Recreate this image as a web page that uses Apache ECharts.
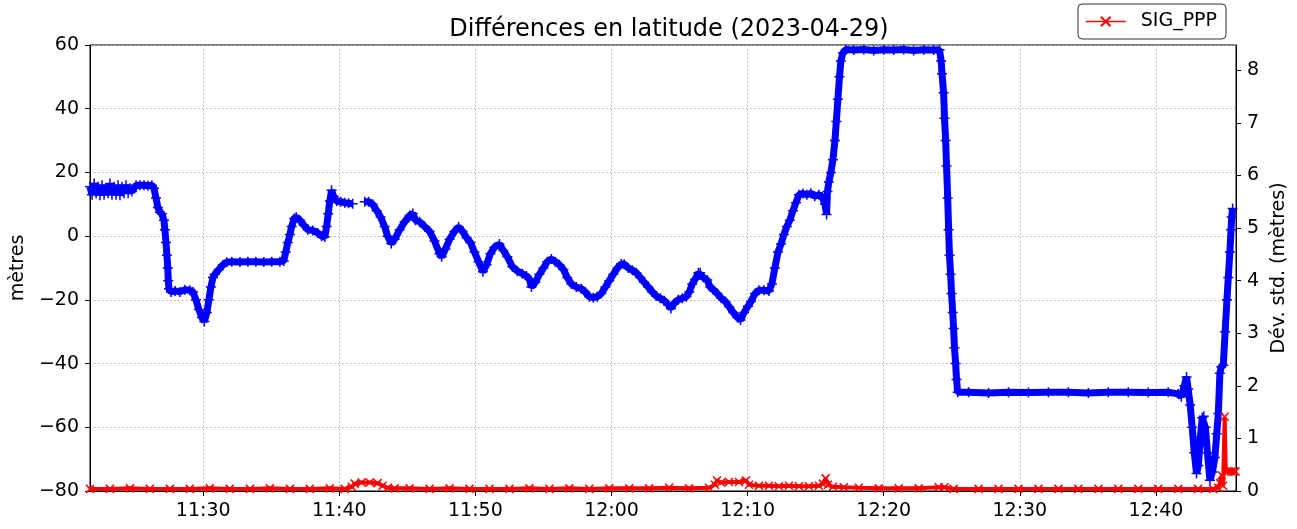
<!DOCTYPE html>
<html><head><meta charset="utf-8">
<script src="https://cdn.jsdelivr.net/npm/echarts@6/dist/echarts.min.js"></script>
<style>html,body{margin:0;padding:0;background:#fff}#c{width:1297px;height:529px}</style>
</head><body><div id="c"></div>
<script>
const titleText = 'Différences en latitude (2023-04-29)';
const leftAxisName = 'mètres';
const rightAxisName = 'Dév. std. (mètres)';
const sigName = 'SIG_PPP';
const xStart = '11:21:41';
const xEnd = '12:45:53';
const xTickLabels = ['11:30','11:40','11:50','12:00','12:10','12:20','12:30','12:40'];

const blueTimes = [
'11:21:41','11:21:50','11:21:59','11:22:08','11:22:17','11:22:25','11:22:34','11:22:43','11:22:52','11:23:01',
'11:23:09','11:23:18','11:23:27','11:23:36','11:23:45','11:23:53','11:24:02','11:24:11','11:24:20','11:24:29',
'11:24:37','11:24:46','11:24:55','11:25:04','11:25:21','11:25:39','11:25:56','11:26:14','11:26:23','11:26:32',
'11:26:40','11:26:49','11:26:58','11:27:07','11:27:11','11:27:16','11:27:20','11:27:24','11:27:26','11:27:29',
'11:27:38','11:27:56','11:28:17','11:28:39','11:29:01','11:29:15','11:29:28','11:29:41','11:29:54','11:30:05',
'11:30:16','11:30:25','11:30:34','11:30:43','11:30:51','11:31:09','11:31:27','11:31:44','11:32:06','11:32:42',
'11:33:17','11:33:52','11:34:27','11:35:02','11:35:38','11:35:55','11:36:04','11:36:13','11:36:22','11:36:30',
'11:36:41','11:36:50','11:37:06','11:37:23','11:37:41','11:38:03','11:38:25','11:38:42','11:38:56','11:39:04',
'11:39:11','11:39:18','11:39:26','11:39:35','11:39:48','11:40:06','11:40:24','11:40:41','11:40:59','11:41:25',
'11:41:52','11:42:09','11:42:27','11:42:45','11:43:02','11:43:20','11:43:33','11:43:49','11:44:04','11:44:26',
'11:44:48','11:45:10','11:45:24','11:45:36','11:45:54','11:46:16','11:46:38','11:47:00','11:47:22','11:47:31',
'11:47:48','11:48:06','11:48:28','11:48:46','11:49:03','11:49:21','11:49:38','11:49:56','11:50:14','11:50:33',
'11:50:49','11:51:06','11:51:24','11:51:46','11:52:03','11:52:21','11:52:43','11:53:05','11:53:27','11:53:45',
'11:53:58','11:54:07','11:54:24','11:54:42','11:55:00','11:55:17','11:55:35','11:55:52','11:56:10','11:56:28',
'11:56:45','11:57:03','11:57:25','11:57:47','11:58:04','11:58:22','11:58:40','11:58:57','11:59:15','11:59:33',
'11:59:50','12:00:08','12:00:26','12:00:43','12:00:56','12:01:14','12:01:32','12:01:49','12:02:07','12:02:24',
'12:02:42','12:03:00','12:03:17','12:03:35','12:03:53','12:04:10','12:04:22','12:04:37','12:04:54','12:05:12',
'12:05:30','12:05:43','12:05:56','12:06:09','12:06:23','12:06:31','12:06:45','12:07:02','12:07:15','12:07:29',
'12:07:46','12:08:04','12:08:22','12:08:39','12:08:57','12:09:15','12:09:29','12:09:44','12:10:02','12:10:15',
'12:10:33','12:10:50','12:11:12','12:11:34','12:11:47','12:12:00','12:12:14','12:12:27','12:12:40','12:12:53',
'12:13:06','12:13:20','12:13:33','12:13:46','12:14:04','12:14:21','12:14:39','12:14:56','12:15:14','12:15:29',
'12:15:41','12:15:48','12:15:52','12:15:58','12:16:07','12:16:16','12:16:25','12:16:31','12:16:38','12:16:45',
'12:16:51','12:17:00','12:17:13','12:17:48','12:18:32','12:19:16','12:20:00','12:20:44','12:21:28','12:22:12',
'12:22:56','12:23:40','12:24:06','12:24:13','12:24:17','12:24:24','12:24:28','12:24:33','12:24:37','12:24:42',
'12:24:46','12:24:50','12:24:55','12:24:59','12:25:04','12:25:08','12:25:12','12:25:17','12:25:21','12:25:26',
'12:26:14','12:27:42','12:29:10','12:30:38','12:32:06','12:33:34','12:35:02','12:36:30','12:37:58','12:39:26',
'12:40:54','12:41:38','12:41:52','12:42:05','12:42:15','12:42:22','12:42:31','12:42:40','12:42:49','12:42:59',
'12:43:07','12:43:16','12:43:24','12:43:31','12:43:38','12:43:47','12:43:58','12:44:09','12:44:20','12:44:28',
'12:44:35','12:44:42','12:44:48','12:44:57','12:45:05','12:45:13','12:45:19','12:45:26','12:45:31','12:45:34',
'12:45:38'];
const blueValues = [
15.5,13,16.5,13.5,15.5,12.8,16,13,15,13.5,
16.5,13,15.5,13,16,12.8,15.5,13.5,16,13.5,
15,14,15,16,16,16,15.8,16,15,12,
9,7.5,7,5,2,-2,-6,-10,-14,-16.5,
-17.5,-17.2,-17.5,-16.8,-17,-17.5,-20,-23,-25.5,-26.8,
-24,-20,-16,-13,-12,-10.5,-9,-8.2,-8,-8.1,
-8,-8,-8.1,-8,-8,-7.8,-5,-2,0.5,3,
5.5,6,5,3.5,2,1.8,1,0,-0.3,3,
7,11,14.4,12.5,11,10.8,10.5,10.3,10.2,null,
10.8,10.8,10,8,6,3,0,-2.3,-1,2,
4.5,6.5,7.1,5,4.5,3,1.5,-1.5,-5.5,-6.5,
-4,-1,1.5,2.9,1.5,-0.5,-2,-5,-8,-11.2,
-9,-5.5,-3.5,-2.5,-4.5,-6.5,-9.6,-11,-11.8,-12.5,
-13.5,-16,-14.5,-12,-10,-8,-7.2,-8,-9,-10.5,
-13,-15,-16,-16.5,-17.5,-19,-19.3,-19,-18,-16,
-14,-12,-10,-8.7,-8.8,-10,-10.7,-11.5,-13,-14.5,
-16,-17.5,-18.8,-19.5,-20.3,-21.5,-22.7,-21,-20,-19.5,
-19,-17.5,-15,-13.5,-11.5,-11.5,-13,-13.8,-16,-16.8,
-18,-19.5,-20.5,-22.2,-24,-25.5,-26.3,-24,-22,-20.5,
-18,-17,-17,-17.2,-15,-10,-5,-2.5,0.5,3,
5,8,10.5,13,13.4,13,13.5,12.5,13,12.3,
10,6.8,14,17,20,24,30,36,43,50,
55,57.5,58.6,58.4,58.6,58.3,58.5,58.4,58.6,58.3,
58.5,58.4,58.5,55,51,45,37,30,22,12,
2,-6,-12,-18,-24,-29,-35,-40,-45,-49,
-49,-49.2,-49,-49.1,-49,-49,-49.2,-49,-49,-49.1,
-49,-49.5,-50.4,-47,-44.2,-48,-53,-60,-68,-74.5,
-72,-63,-57,-56.5,-60,-68,-76.6,-74,-69.5,-62,
-55.7,-43,-41,-40.5,-30,-20,-13,-5,2,6,
8.7];

const sigTimes = [
'11:21:41','11:23:09','11:24:37','11:26:05','11:27:33','11:29:01','11:30:29','11:31:57','11:33:26','11:34:54',
'11:36:22','11:37:50','11:39:18','11:40:24','11:40:55','11:41:08','11:41:38','11:42:14','11:42:49','11:43:11',
'11:43:33','11:44:04','11:45:10','11:46:38','11:48:06','11:49:34','11:51:02','11:52:30','11:53:58','11:55:26',
'11:56:54','11:58:22','11:59:50','12:01:18','12:02:46','12:04:14','12:05:42','12:07:10','12:07:36','12:07:45',
'12:08:03','12:08:38','12:09:22','12:09:53','12:10:06','12:10:50','12:11:34','12:12:18','12:13:02','12:13:46',
'12:14:30','12:15:14','12:15:32','12:15:44','12:15:54','12:16:16','12:17:04','12:18:10','12:19:38','12:21:06',
'12:22:34','12:24:02','12:24:28','12:25:08','12:26:58','12:28:26','12:29:54','12:31:22','12:32:50','12:34:18',
'12:35:46','12:37:14','12:38:42','12:40:10','12:41:38','12:43:06','12:44:12','12:44:34','12:44:43','12:44:50',
'12:44:56','12:45:03','12:45:08','12:45:19','12:45:32','12:45:45','12:45:51'];
const sigValues = [
0.04,0.04,0.05,0.04,0.04,0.04,0.05,0.04,0.04,0.05,
0.04,0.04,0.05,0.04,0.08,0.14,0.16,0.16,0.15,0.1,
0.06,0.05,0.05,0.04,0.05,0.04,0.04,0.04,0.05,0.04,
0.05,0.04,0.05,0.05,0.05,0.06,0.05,0.06,0.12,0.2,
0.16,0.17,0.17,0.2,0.12,0.1,0.1,0.09,0.1,0.09,
0.09,0.1,0.14,0.24,0.12,0.08,0.07,0.06,0.05,0.05,
0.05,0.07,0.07,0.04,0.04,0.04,0.04,0.04,0.04,0.04,
0.04,0.04,0.04,0.04,0.04,0.04,0.04,0.06,0.15,0.3,
0.1,1.41,0.37,0.37,0.37,0.37,0.37];

function toMin(s){const p=s.split(':').map(Number);return p[0]*60+p[1]+(p[2]||0)/60;}
function fmtTime(v){const m=Math.round(v);const h=Math.floor(m/60),mm=m%60;return h+':'+(mm<10?'0':'')+mm;}
function fmtNum(v){return v<0?'\u2212'+Math.abs(v):String(v);}

const blueData = blueTimes.map((t,i)=>[toMin(t), blueValues[i]===null?'-':blueValues[i]]);
const sigData = sigTimes.map((t,i)=>[toMin(t), sigValues[i]]);
const xTickValues = xTickLabels.map(toMin);

const FONT = 'DejaVu Sans';
const chart = echarts.init(document.getElementById('c'), null, {renderer:'canvas'});
chart.setOption({
  animation:false,
  backgroundColor:'#fff',
  textStyle:{fontFamily:FONT,color:'#000'},
  title:{text:titleText,left:664,textAlign:'center',top:13,
    textStyle:{fontFamily:FONT,fontSize:24,fontWeight:'normal',color:'#000'}},
  legend:{data:[sigName],left:1078,top:4,orient:'vertical',
    padding:[8,9,8,7],itemWidth:40,itemHeight:12,
    backgroundColor:'#fff',borderColor:'#333',borderWidth:1,borderRadius:4,
    lineStyle:{width:1.5},
    textStyle:{fontFamily:FONT,fontSize:19,color:'#000',padding:[0,0,0,10]}},
  grid:{left:90,right:59,top:45,bottom:38,show:true,borderColor:'#000',borderWidth:1,backgroundColor:'transparent'},
  xAxis:{type:'value',min:toMin(xStart),max:toMin(xEnd),splitNumber:8,
    axisLine:{show:true,onZero:false,lineStyle:{color:'#000',width:1}},
    axisTick:{show:true,inside:false,length:5,customValues:xTickValues,lineStyle:{color:'#000'}},
    axisLabel:{fontFamily:FONT,fontSize:19,color:'#000',margin:11,customValues:xTickValues,formatter:fmtTime},
    splitLine:{show:true,lineStyle:{type:[1.5,2.5],color:'#b0b0b0',width:1}}},
  yAxis:[
    {type:'value',position:'left',min:-80,max:60,interval:20,
      name:leftAxisName,nameLocation:'middle',nameGap:55,
      nameTextStyle:{fontFamily:FONT,fontSize:19,color:'#000'},
      axisLine:{show:true,onZero:false,lineStyle:{color:'#000',width:1}},
      axisTick:{show:true,inside:false,length:5,lineStyle:{color:'#000'}},
      axisLabel:{fontFamily:FONT,fontSize:19,color:'#000',margin:11,formatter:fmtNum},
      splitLine:{show:true,lineStyle:{type:[1.5,2.5],color:'#b0b0b0',width:1}}},
    {type:'value',position:'right',min:0,max:8.48,interval:1,
      name:rightAxisName,nameLocation:'middle',nameGap:30,
      nameTextStyle:{fontFamily:FONT,fontSize:19,color:'#000'},
      axisLine:{show:true,onZero:false,lineStyle:{color:'#000',width:1}},
      axisTick:{show:true,inside:false,length:5,lineStyle:{color:'#000'}},
      axisLabel:{fontFamily:FONT,fontSize:19,color:'#000',margin:11,showMaxLabel:false},
      splitLine:{show:false}}
  ],
  series:[
    {name:'diff',type:'line',yAxisIndex:0,data:blueData,z:2,
      symbol:'path://M0,5L10,5M5,0L5,10',symbolSize:10,showAllSymbol:true,
      itemStyle:{color:'#0000ff',borderColor:'#0000ff',borderWidth:1.5},
      lineStyle:{color:'#0000ff',width:7},connectNulls:false},
    {name:sigName,type:'line',yAxisIndex:1,data:sigData,z:3,
      symbol:'path://M0,0L10,10M0,10L10,0',symbolSize:8,showAllSymbol:true,
      itemStyle:{color:'#ff0000',borderColor:'#ff0000',borderWidth:1.5},
      lineStyle:{color:'#ff0000',width:4}}
  ]
});
</script></body></html>
